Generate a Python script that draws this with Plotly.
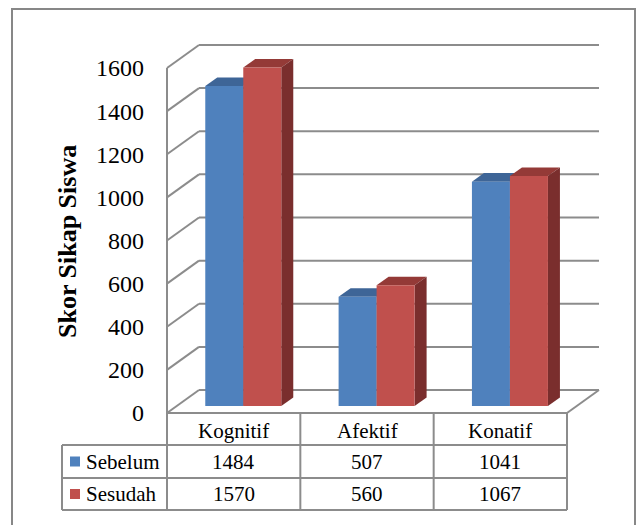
import plotly.graph_objects as go

# ---------------- data ----------------
categories = ["Kognitif", "Afektif", "Konatif"]
series_names = ["Sebelum", "Sesudah"]
sebelum = [1484, 507, 1041]
sesudah = [1570, 560, 1067]
y_ticks = [0, 200, 400, 600, 800, 1000, 1200, 1400, 1600]
y_title = "Skor Sikap Siswa"

# ---------------- geometry / style ----------------
WIDTH, HEIGHT = 638, 525
ML = 150                      # left margin (px) for tick labels
PX0 = 167                     # pixel x of front-left floor corner
CW = 400 / 3                  # px per category
PY0 = 413                     # pixel y of value 0 on front plane
K = 345 / 1600                # px per value unit
DXPX, DYPX = 32, 23           # oblique depth offset (px)
DX = DXPX / CW
DY = DYPX / K
D0, D1 = 0.30, 0.675          # bar depth span
BW = 0.285                    # bar width (category units)

FRONT = ["#4F81BD", "#C0504D"]
TOP = ["#3E6597", "#943A37"]
SIDE = ["#2F4D73", "#7A2E2D"]
GRID = "#8C8C8C"
FONT = "Liberation Serif"

xr0 = -0.5 - (PX0 - ML) / CW
xr1 = -0.5 + (WIDTH - PX0) / CW
yr0 = (PY0 - HEIGHT) / K
yr1 = PY0 / K


def proj(x, d, v):
    return x + d * DX, v + d * DY


def px_x(px):
    return (px - ML) / (WIDTH - ML)


def px_y(py):
    return 1 - py / HEIGHT


def cat_px(x):
    return PX0 + (x + 0.5) * CW


fig = go.Figure()

# ---------------- walls / gridlines ----------------
n = len(categories)
gx, gy = [], []
for t in y_ticks:
    for (a, b) in [((-0.5, 0, t), (-0.5, 1, t)), ((-0.5, 1, t), (n - 0.5, 1, t))]:
        p, q = proj(*a), proj(*b)
        gx += [p[0], q[0], None]
        gy += [p[1], q[1], None]
for (a, b) in [((-0.5, 0, 0), (-0.5, 0, y_ticks[-1])),
               ((-0.5, 0, 0), (n - 0.5, 0, 0)),
               ((n - 0.5, 0, 0), (n - 0.5, 1, 0))]:
    p, q = proj(*a), proj(*b)
    gx += [p[0], q[0], None]
    gy += [p[1], q[1], None]
fig.add_trace(go.Scatter(x=gx, y=gy, mode="lines", line=dict(color=GRID, width=2),
                         hoverinfo="skip", showlegend=False))


# ---------------- 3D bars ----------------
def face(pts, color):
    xs = [p[0] for p in pts] + [pts[0][0]]
    ys = [p[1] for p in pts] + [pts[0][1]]
    fig.add_trace(go.Scatter(x=xs, y=ys, mode="lines", fill="toself",
                             fillcolor=color, line=dict(width=0, color=color),
                             hoverinfo="skip", showlegend=False))


series = [sebelum, sesudah]
for i in range(n):
    for s, vals in enumerate(series):
        v = vals[i]
        xl = i - BW + s * BW
        xr = xl + BW
        top = [proj(xl, D0, v), proj(xr, D0, v), proj(xr, D1, v), proj(xl, D1, v)]
        side = [proj(xr, D0, 0), proj(xr, D1, 0), proj(xr, D1, v), proj(xr, D0, v)]
        front = [proj(xl, D0, 0), proj(xr, D0, 0), proj(xr, D0, v), proj(xl, D0, v)]
        face(top, TOP[s])
        face(side, SIDE[s])
        face(front, FRONT[s])

# ---------------- data table ----------------
shapes = []
annotations = []
line = dict(color=GRID, width=2)
T_TOP, T_R1, T_R2, T_BOT = 413, 445, 478, 510
LEG_L = 62
right_px = cat_px(n - 0.5)


def hline(x0, x1, y):
    shapes.append(dict(type="line", xref="paper", yref="paper",
                       x0=px_x(x0), x1=px_x(x1), y0=px_y(y), y1=px_y(y), line=line))


def vline(x, y0, y1):
    shapes.append(dict(type="line", xref="paper", yref="paper",
                       x0=px_x(x), x1=px_x(x), y0=px_y(y0), y1=px_y(y1), line=line))


def label(xpx, ypx, text, size=21, xanchor="center", bold=False, angle=0):
    annotations.append(dict(x=px_x(xpx), y=px_y(ypx), xref="paper", yref="paper",
                            xanchor=xanchor, yanchor="middle", textangle=angle,
                            text=("<b>%s</b>" % text) if bold else text,
                            showarrow=False,
                            font=dict(family=FONT, size=size, color="black")))


for yy in [T_R1, T_R2, T_BOT]:
    hline(LEG_L, right_px, yy)
vline(LEG_L, T_R1, T_BOT)
for j in range(n + 1):
    vline(cat_px(j - 0.5), T_TOP, T_BOT)

for i, c in enumerate(categories):
    label(cat_px(i), (T_TOP + T_R1) / 2 + 2, c)
rows = [(T_R1, T_R2), (T_R2, T_BOT)]
for s, vals in enumerate(series):
    yc = (rows[s][0] + rows[s][1]) / 2
    for i, v in enumerate(vals):
        label(cat_px(i), yc, str(v))
    shapes.append(dict(type="rect", xref="paper", yref="paper",
                       x0=px_x(70), x1=px_x(80), y0=px_y(yc - 5), y1=px_y(yc + 5),
                       fillcolor=FRONT[s], line=dict(width=0)))
    label(84, yc, series_names[s], xanchor="left")

# y title
label(67, 242, y_title, size=26, bold=True, angle=-90)

# outer border
shapes.append(dict(type="rect", xref="paper", yref="paper",
                   x0=px_x(12), x1=px_x(635), y0=px_y(9), y1=px_y(540),
                   line=dict(color="#878787", width=2), fillcolor="rgba(0,0,0,0)"))

fig.update_layout(
    width=WIDTH, height=HEIGHT,
    margin=dict(l=ML, r=0, t=0, b=0),
    paper_bgcolor="white", plot_bgcolor="white",
    showlegend=False, hovermode=False,
    font=dict(family=FONT, color="black"),
    shapes=shapes, annotations=annotations,
    xaxis=dict(range=[xr0, xr1], visible=False, fixedrange=True),
    yaxis=dict(range=[yr0, yr1], tickvals=y_ticks, ticktext=[str(t) for t in y_ticks],
               showgrid=False, zeroline=False, showline=False, ticks="",
               ticklabelstandoff=5,
               tickfont=dict(family=FONT, size=24, color="black"), fixedrange=True),
)

fig.write_html("out.html")
